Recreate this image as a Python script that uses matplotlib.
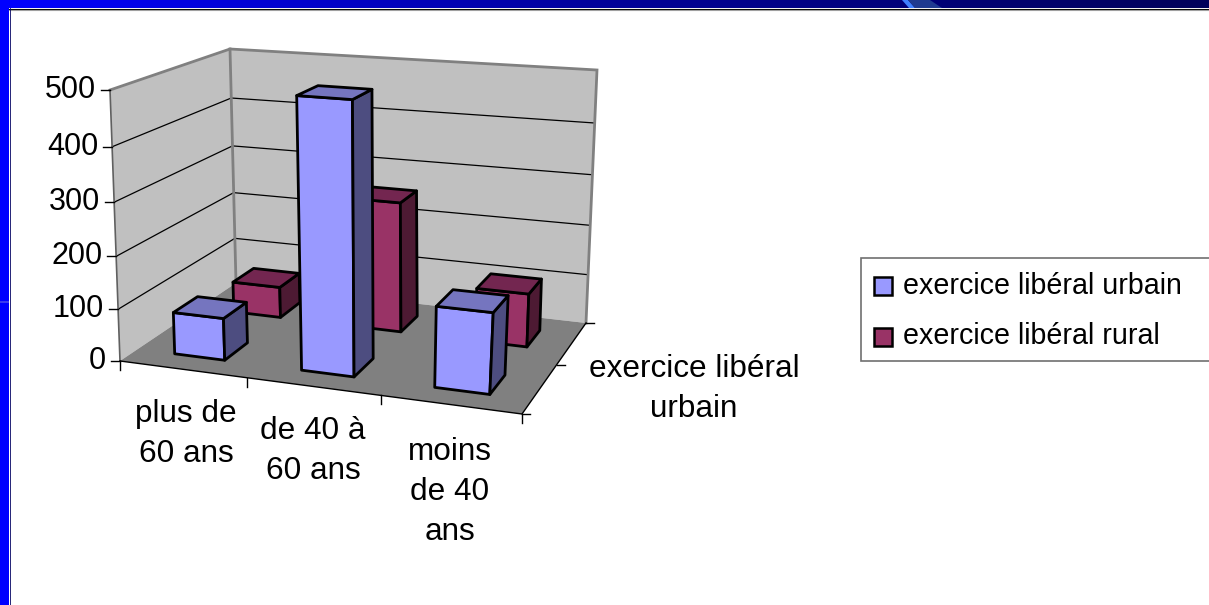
import numpy as np
import matplotlib
matplotlib.use("Agg")
import matplotlib.pyplot as plt
from matplotlib.patches import Polygon, Rectangle

categories = ["plus de\n60 ans", "de 40 à\n60 ans", "moins\nde 40\nans"]
depth_label = "exercice libéral\nurbain"
series_names = ["exercice libéral urbain", "exercice libéral rural"]
urbain = [81, 500, 150]
rural = [63, 258, 105]
y_ticks = [0, 100, 200, 300, 400, 500]

plt.rcParams["font.family"] = ["Liberation Sans", "DejaVu Sans"]
FS_TICK = 22
FS_CAT = 22.7
FS_LEG = 20.6

fig = plt.figure(figsize=(12.09, 6.05), dpi=100)
ax = fig.add_axes([0, 0, 1, 1])


def homography(dst):
    # unit square -> 4 pixel corners (fl, fr, br, bl)
    src = [(0, 0), (1, 0), (1, 1), (0, 1)]
    A, b = [], []
    for (u, v), (x, y) in zip(src, dst):
        A.append([u, v, 1, 0, 0, 0, -u * x, -v * x])
        A.append([0, 0, 0, u, v, 1, -u * y, -v * y])
        b += [x, y]
    return np.append(np.linalg.solve(np.array(A, float), np.array(b, float)), 1).reshape(3, 3)


H_floor = homography([(120, 361), (522, 414), (586, 323), (236, 283)])
H_top = homography([(110, 90), (540, 122), (597, 70), (230, 49)])


def proj(cat, depth, val):
    p = np.array([cat / 3, depth, 1.0])
    a = H_floor @ p
    b = H_top @ p
    a, b = a[:2] / a[2], b[:2] / b[2]
    t = val / 500
    # heights foreshorten slightly towards the floor
    t = t / (t + (1 - t) * 1.06)
    return tuple(a + (b - a) * t)


# slide background
grad = np.linspace(0, 1, 256).reshape(1, -1)
top_cmap = matplotlib.colors.LinearSegmentedColormap.from_list("t", ["#0000ff", "#00009a", "#00005a"])
ax.imshow(grad, extent=[0, 1209, 8, 0], cmap=top_cmap, aspect="auto", zorder=1)
ax.add_patch(Polygon([(902, 0), (908, 0), (915, 8), (909, 8)], color="#3f7fff", zorder=2, lw=0))
ax.add_patch(Polygon([(908, 0), (930, 0), (942, 8), (915, 8)], color="#1f3a90", zorder=2, lw=0))
ax.add_patch(Rectangle((0, 0), 9, 605, color="#0000ff", lw=0, zorder=2))
ax.add_patch(Rectangle((0, 301), 9, 2, color="#3a3af0", lw=0, zorder=2))
ax.plot([9, 1209], [8.5, 8.5], color="black", lw=0.8, zorder=3)
ax.plot([9, 1209], [9.5, 9.5], color="#a0a0a0", lw=0.8, zorder=3)
ax.plot([9.5, 9.5], [8, 605], color="#000060", lw=0.6, zorder=3)

# walls and floor
GRAY = "#808080"
ax.add_patch(Polygon([proj(0, 0, 0), proj(0, 1, 0), proj(0, 1, 500), proj(0, 0, 500)], fc="#c0c0c0", ec="none", zorder=4))
ax.add_patch(Polygon([proj(0, 1, 0), proj(3, 1, 0), proj(3, 1, 500), proj(0, 1, 500)], fc="#c0c0c0", ec="none", zorder=4))
ax.add_patch(Polygon([proj(0, 0, 0), proj(3, 0, 0), proj(3, 1, 0), proj(0, 1, 0)], fc=GRAY, ec="none", zorder=5))

for t in y_ticks[1:-1]:
    pts = [proj(0, 0, t), proj(0, 1, t), proj(3, 1, t)]
    ax.plot(*zip(*pts), color="black", lw=0.9, zorder=4.5)
top_pts = [proj(0, 0, 500), proj(0, 1, 500), proj(3, 1, 500), proj(3, 1, 0)]
ax.plot(*zip(*top_pts), color=GRAY, lw=2, zorder=4.6, solid_joinstyle="miter")
ax.plot(*zip(proj(0, 1, 0), proj(0, 1, 500)), color=GRAY, lw=2, zorder=4.6)
ax.plot(*zip(proj(0, 0, 0), proj(0, 0, 500)), color="#606060", lw=1.2, zorder=5.5)

# axis lines and ticks
ax.plot(*zip(proj(0, 0, 0), proj(3, 0, 0), proj(3, 1, 0)), color="black", lw=1, zorder=5.5)
for t in y_ticks:
    x, y = proj(0, 0, t)
    ax.plot([x - 9, x], [y, y], color="black", lw=1, zorder=5.5)
    ax.text(x - 14, y, str(t), ha="right", va="center", fontsize=FS_TICK, color="black", zorder=9)
for i in range(len(categories) + 1):
    x, y = proj(i, 0, 0)
    ax.plot([x, x], [y, y + 9], color="black", lw=1, zorder=5.5)
for d in [0, 0.5, 1]:
    x, y = proj(3, d, 0)
    ax.plot([x, x + 8], [y, y], color="black", lw=1, zorder=5.5)

cat_label_pos = [(186, 434), (313, 451), (450, 492)]
for lab, (x, y) in zip(categories, cat_label_pos):
    ax.text(x, y, lab, ha="center", va="center", fontsize=FS_CAT, linespacing=1.44, zorder=9)
ax.text(694, 389, depth_label, ha="center", va="center", fontsize=FS_CAT, linespacing=1.44, zorder=9)


def bar(cat, depth, val, front, top, side, z):
    u0, u1 = cat + 0.5 - 0.2, cat + 0.5 + 0.2
    v0, v1 = depth - 0.1, depth + 0.1
    style = dict(ec="black", lw=2, joinstyle="round", zorder=z)
    ax.add_patch(Polygon([proj(u0, v0, 0), proj(u1, v0, 0), proj(u1, v0, val), proj(u0, v0, val)], fc=front, **style))
    ax.add_patch(Polygon([proj(u1, v0, 0), proj(u1, v1, 0), proj(u1, v1, val), proj(u1, v0, val)], fc=side, **style))
    ax.add_patch(Polygon([proj(u0, v0, val), proj(u1, v0, val), proj(u1, v1, val), proj(u0, v1, val)], fc=top, **style))


BLUE = ("#9999ff", "#7575bf", "#4d4d80")
PLUM = ("#993366", "#732650", "#4d1a33")
for i, val in enumerate(rural):
    bar(i, 0.75, val, *PLUM, 6)
for i, val in enumerate(urbain):
    bar(i, 0.235, val, *BLUE, 7)

# legend
ax.add_patch(Rectangle((861, 258), 360, 103, fc="white", ec="#707070", lw=1.2, zorder=8))
for name, col, y in zip(series_names, [BLUE[0], PLUM[0]], [285.5, 336.5]):
    ax.add_patch(Rectangle((874, y - 9), 18, 18, fc=col, ec="black", lw=1.8, zorder=9))
    ax.text(903, y, name, ha="left", va="center", fontsize=FS_LEG, zorder=9)

ax.set_xlim(0, 1209)
ax.set_ylim(605, 0)
ax.axis("off")
fig.savefig("out.png", dpi=100, facecolor="white")
